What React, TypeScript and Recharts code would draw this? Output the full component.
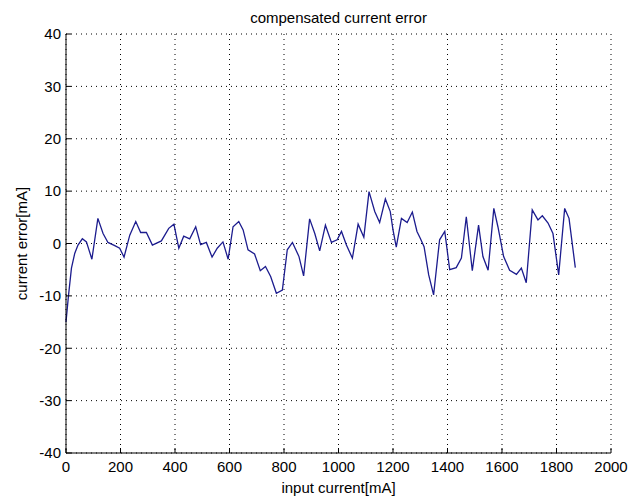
import { LineChart, Line, XAxis, YAxis, CartesianGrid } from 'recharts';

// input current [mA]
const inputCurrent = [
    0, 9, 20, 32, 44, 60, 75, 95, 117, 136, 154, 179, 197, 213, 234, 256, 274, 295, 317, 350,
    377, 396, 414, 432, 454, 476, 494, 515, 536, 555, 576, 595, 613, 634, 650, 668, 692, 713, 732, 751,
    772, 794, 812, 831, 855, 872, 894, 913, 931, 952, 974, 995, 1011, 1029, 1051, 1072, 1093, 1112, 1133, 1151,
    1172, 1190, 1200, 1212, 1231, 1252, 1271, 1288, 1300, 1314, 1331, 1349, 1371, 1390, 1408, 1432, 1451, 1469, 1491, 1514,
    1530, 1549, 1570, 1585, 1606, 1628, 1653, 1671, 1689, 1711, 1732, 1748, 1769, 1787, 1808, 1830, 1846, 1869,
];

// compensated current error [mA]
const currentError = [
    -15, -10, -4.7, -1.9, -0.3, 0.9, 0.3, -3.0, 4.8, 1.9, 0.2, -0.4, -0.9, -2.6, 1.6, 4.2, 2.1, 2.1, -0.3, 0.5,
    2.9, 3.7, -0.9, 1.4, 0.9, 3.2, -0.2, 0.2, -2.6, -0.9, 0.3, -3.0, 3.2, 4.2, 2.6, -1.2, -2.0, -5.2, -4.4, -6.3,
    -9.5, -8.9, -1.2, 0.2, -2.5, -6.2, 4.7, 1.9, -1.4, 3.5, 0.2, 0.7, 2.3, -0.3, -2.8, 3.7, 1.2, 9.9, 6.1, 4.0,
    8.5, 6.1, 2.6, -0.7, 4.8, 4.0, 6.0, 2.3, 1.0, -0.6, -6.0, -9.8, 0.7, 2.3, -5.0, -4.6, -2.8, 5.1, -5.2, 3.5,
    -2.5, -5.1, 6.7, 3.2, -2.5, -5.1, -5.9, -4.7, -7.5, 6.4, 4.5, 5.3, 3.9, 1.9, -6.0, 6.7, 4.8, -4.6,
];

const xTicks = [0, 200, 400, 600, 800, 1000, 1200, 1400, 1600, 1800, 2000];
const yTicks = [-40, -30, -20, -10, 0, 10, 20, 30, 40];

const data = inputCurrent.map((x, i) => ({ x, err: currentError[i] }));

const font = '"Liberation Sans", Arial, sans-serif';
const tickStyle = { fill: '#000', fontSize: 15, fontFamily: font };
const blank = () => '';

export default function App() {
    return (
        <div style={{ position: 'absolute', left: 0, top: 0, width: 635, height: 499, background: '#fff' }}>
            <div
                style={{
                    position: 'absolute', left: 66, width: 545, top: 9, textAlign: 'center',
                    fontFamily: font, fontSize: 15, lineHeight: '18px', color: '#000',
                }}
            >
                compensated current error
            </div>
            <LineChart width={635} height={499} data={data} margin={{ top: 34, right: 24, left: 0, bottom: 0 }}>
                <CartesianGrid stroke="#000" strokeDasharray="1 4" strokeWidth={1} horizontalValues={yTicks} verticalValues={xTicks} />
                <XAxis
                    dataKey="x" type="number" domain={[0, 2000]} ticks={xTicks} interval={0}
                    height={46} tickSize={-5} tickMargin={13} stroke="#000"
                    tick={tickStyle}
                    label={{ value: 'input current[mA]', position: 'insideBottom', offset: 6, style: { fill: '#000', fontSize: 15, fontFamily: font } }}
                />
                <XAxis
                    xAxisId="top" orientation="top" dataKey="x" type="number" domain={[0, 2000]} ticks={xTicks} interval={0}
                    height={0} tickSize={-5} stroke="#000" tickFormatter={blank}
                />
                <YAxis
                    type="number" domain={[-40, 40]} ticks={yTicks} interval={0}
                    width={66} tickSize={-5} tickMargin={10} stroke="#000"
                    tick={tickStyle}
                    label={{ value: 'current error[mA]', angle: -90, position: 'insideLeft', offset: 22, style: { fill: '#000', fontSize: 15, fontFamily: font, textAnchor: 'middle' } }}
                />
                <YAxis
                    yAxisId="right" orientation="right" type="number" domain={[-40, 40]} ticks={yTicks} interval={0}
                    width={0} tickSize={-5} stroke="#000" tickFormatter={blank}
                />
                <Line type="linear" dataKey="err" stroke="#1c1c8e" strokeWidth={1.3} dot={false} isAnimationActive={false} />
            </LineChart>
        </div>
    );
}
